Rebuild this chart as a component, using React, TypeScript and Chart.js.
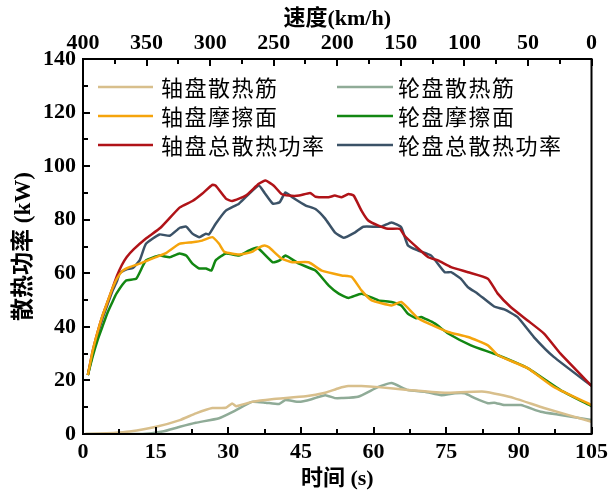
import { useEffect, useRef } from "react";
import { Chart, registerables } from "chart.js";

Chart.register(...registerables);

// ---------- data ----------
const tanT = [0.5, 6.3, 9.6, 15.1, 20, 23.3, 26.7, 29.5, 30.8, 31.6, 34.9, 39, 46, 50, 52.8, 54.8, 57.5, 61, 67.1, 74.7, 82.9, 89, 95.2, 105];
const tanV = [0, 0.4, 0.9, 2.7, 5.2, 7.7, 9.7, 9.8, 11.4, 10.4, 12, 13, 14.1, 15.4, 17.1, 17.9, 17.9, 17.5, 16.4, 15.4, 15.8, 13.4, 9.7, 4.6];

const sageT = [0.5, 12.3, 16.4, 20, 23.3, 28.1, 31.6, 34.9, 37.7, 40.5, 41.8, 44.6, 47.2, 50, 52, 53.4, 56.8, 61, 63.7, 67.1, 70.6, 74, 76.8, 78.8, 80.9, 83.6, 84.9, 87, 90.4, 94.5, 98.6, 105];
const sageV = [0, 0, 0.9, 2.7, 4.2, 5.9, 8.9, 12, 11.7, 11.2, 12.7, 12, 13, 14.5, 13.4, 13.4, 13.9, 17.6, 19, 16.4, 15.8, 14.5, 15.2, 15.2, 13.4, 11.5, 11.7, 10.8, 10.8, 8.3, 7.1, 5.2];

const orangeT = [1, 2, 3, 4, 5, 6, 7, 8.2, 9.6, 11.7, 14.3, 17, 19.9, 22.6, 24.6, 26.7, 28.1, 29.2, 32.2, 34.9, 36.3, 37.5, 38.4, 41, 43.2, 46.6, 49.3, 53.4, 55.5, 57.5, 59.6, 63.7, 65.7, 69.2, 71.3, 75.4, 79.5, 83.6, 85.7, 91.8, 97.2, 105];
const orangeV = [22, 31, 38, 44, 49, 54, 58, 61, 62.3, 63.6, 65.5, 67.4, 71, 71.6, 72.2, 73.5, 71, 68, 67, 68, 69.6, 70.4, 69.7, 65.5, 64.1, 64.1, 61, 59.2, 58.6, 53.6, 49.9, 48, 49.3, 43.2, 41.3, 38.1, 36.2, 33.1, 29.4, 24.6, 17.6, 10.8];

const greenT = [1, 2, 3, 4, 5, 6, 6.9, 8.9, 11, 13, 15.8, 17.9, 19.9, 21.3, 22.6, 24, 25.4, 26.5, 27.4, 29.5, 32.2, 34.3, 36, 39.2, 40.6, 41.8, 44.6, 48, 50.7, 52.8, 54.8, 57.5, 61, 63.7, 65.7, 67.1, 68.8, 69.8, 72.6, 75.4, 80.1, 85.7, 91.8, 98.6, 105];
const greenV = [22, 29, 35, 40, 45, 49, 52.4, 57.3, 58, 64.8, 66.6, 66, 67.4, 66.6, 63.6, 61.8, 61.8, 61, 64.8, 67.4, 66.6, 68.5, 69.6, 64.1, 64.8, 66.6, 63.6, 61, 55.5, 52.4, 50.8, 52.4, 49.9, 49.3, 48, 44.9, 43.2, 43.7, 41.3, 37.5, 33.1, 29.4, 24.6, 16.4, 10.4];

const redT = [1, 2, 3, 4, 5, 6, 7, 8, 9, 10.5, 13, 16, 20, 22.6, 24.6, 26.7, 27.4, 29.5, 30.8, 33.6, 36.3, 37.7, 39.4, 41, 42.5, 44.6, 46.9, 48, 50.7, 52, 53.4, 54.8, 55.9, 57.5, 58.9, 61, 63, 65.4, 66.4, 68.5, 71.3, 73.3, 76, 79.5, 83.6, 85.6, 88.3, 91.8, 95.2, 98.6, 105];
const redV = [22, 31, 38, 44, 49, 54, 59, 63, 66, 69, 73, 77, 84.6, 87, 89.7, 93, 92.7, 87.9, 87, 89, 93.4, 94.6, 92.7, 89.6, 89, 89, 90, 88.6, 88.4, 89, 88.4, 89.6, 89, 83.4, 79.7, 77.8, 76.6, 76.6, 74, 70.4, 66, 64.8, 62.3, 60.4, 58, 52.5, 47.4, 42.4, 37.5, 30, 18];

const blueT = [1, 2, 3, 4, 5, 6, 7, 7.6, 9, 10.3, 11.7, 13, 15.8, 17.9, 20, 21.3, 22.6, 24, 25.4, 26, 27.4, 29.5, 32.2, 34.3, 36.3, 37.5, 39.2, 40.6, 41.8, 43.2, 46, 48, 50, 52, 53.8, 56.2, 57.9, 61.6, 63.7, 65.7, 67.1, 69.2, 71.9, 74.7, 76, 78, 79.5, 81.5, 84.9, 87, 89.7, 93.1, 97.2, 105];
const blueV = [22, 30, 37, 43, 48, 53, 57, 60, 61.5, 62, 64.8, 71, 74.5, 74, 77, 77.4, 74.8, 73.5, 74.8, 74.5, 78.5, 83.4, 86, 89.7, 92.8, 90, 86, 86.5, 90.2, 88.4, 85.3, 84, 80.4, 75.3, 73.3, 75.3, 77.4, 77.4, 79, 77.2, 70.4, 68.5, 66.6, 60.4, 60.4, 58, 54.8, 52.4, 47.6, 46.5, 43.7, 36.2, 28.8, 18];

const seriesNames = ["轴盘散热筋", "轮盘散热筋", "轴盘摩擦面", "轮盘摩擦面", "轴盘总散热功率", "轮盘总散热功率"];
const seriesColors = ["#d8bf8c", "#8fab97", "#f5a40c", "#128712", "#b01318", "#3b5267"];

const xTitle = "时间 (s)";
const x2Title = "速度(km/h)";
const yTitle = "散热功率 (kW)";
const xRange = [0, 105];
const x2Range = [0, 400];
const yRange = [0, 140];
const xTickStep = 15;
const x2TickStep = 50;
const yTickStep = 20;

const SERIF = '"Liberation Serif", "Times New Roman", "Noto Sans CJK SC", serif';
const CJK = '"Noto Sans CJK SC", "Liberation Serif", sans-serif';

function pairs(t: number[], v: number[]) {
  return t.map((x, i) => ({ x, y: v[i] }));
}

const decorPlugin = {
  id: "decor",
  afterDraw(chart: any) {
    const { ctx, chartArea: a, scales } = chart;
    ctx.save();
    ctx.strokeStyle = "#000";
    ctx.lineWidth = 2;
    ctx.lineCap = "butt";
    ctx.strokeRect(a.left, a.top, a.right - a.left, a.bottom - a.top);
    const line = (x1: number, y1: number, x2: number, y2: number) => {
      ctx.beginPath();
      ctx.moveTo(x1, y1);
      ctx.lineTo(x2, y2);
      ctx.stroke();
    };
    // bottom axis ticks (inward)
    for (let v = xRange[0]; v <= xRange[1] + 1e-6; v += xTickStep / 2) {
      const px = Math.round(scales.x.getPixelForValue(v));
      const major = Math.abs(v / xTickStep - Math.round(v / xTickStep)) < 1e-6;
      line(px, a.bottom, px, a.bottom - (major ? 7 : 5));
    }
    // top axis ticks
    for (let v = x2Range[0]; v <= x2Range[1] + 1e-6; v += x2TickStep / 2) {
      const px = Math.round(scales.x2.getPixelForValue(v));
      const major = Math.abs(v / x2TickStep - Math.round(v / x2TickStep)) < 1e-6;
      line(px, a.top, px, a.top + (major ? 7 : 5));
    }
    // left axis ticks
    for (let v = yRange[0]; v <= yRange[1] + 1e-6; v += yTickStep / 2) {
      const py = Math.round(scales.y.getPixelForValue(v));
      const major = Math.abs(v / yTickStep - Math.round(v / yTickStep)) < 1e-6;
      line(a.left, py, a.left + (major ? 7 : 5), py);
    }
    // legend (2 columns, 3 rows) inside plot
    const rowsY = [a.top + 28, a.top + 57, a.top + 86];
    const cols = [
      { x1: a.left + 15, x2: a.left + 70, tx: a.left + 78 },
      { x1: a.left + 254, x2: a.left + 310, tx: a.left + 315 },
    ];
    ctx.font = `normal 22px ${CJK}`;
    ctx.textBaseline = "middle";
    ctx.textAlign = "left";
    ctx.fillStyle = "#000";
    try { (ctx as any).letterSpacing = "1.5px"; } catch (e) {}
    ctx.lineWidth = 2.5;
    seriesNames.forEach((name, i) => {
      const c = cols[i % 2];
      const y = rowsY[Math.floor(i / 2)];
      ctx.strokeStyle = seriesColors[i];
      line(c.x1, y, c.x2, y);
      ctx.fillText(name, c.tx, y + 1);
    });
    try { (ctx as any).letterSpacing = "0px"; } catch (e) {}
    ctx.restore();
  },
};

export default function App() {
  const ref = useRef<HTMLCanvasElement | null>(null);
  useEffect(() => {
    if (!ref.current) return;
    const ts = [tanT, sageT, orangeT, greenT, redT, blueT];
    const vs = [tanV, sageV, orangeV, greenV, redV, blueV];
    const datasets = seriesNames.map((name, i) => ({
      label: name,
      data: pairs(ts[i], vs[i]),
      borderColor: seriesColors[i],
      backgroundColor: seriesColors[i],
      borderWidth: 2.5,
      pointRadius: 0,
      tension: 0.15,
      fill: false,
      xAxisID: "x",
      yAxisID: "y",
    }));
    const tickFont = { family: SERIF, size: 22, weight: "bold" as const };
    const titleFont = { family: SERIF, size: 22, weight: "bold" as const };
    const chart = new Chart(ref.current, {
      type: "line",
      data: { datasets },
      plugins: [decorPlugin],
      options: {
        responsive: false,
        animation: false,
        layout: { padding: { left: 0, right: 19, top: 0, bottom: 0 } },
        plugins: { legend: { display: false }, tooltip: { enabled: false } },
        scales: {
          x: {
            type: "linear",
            position: "bottom",
            min: xRange[0],
            max: xRange[1],
            grid: { display: false, drawTicks: false },
            border: { display: false },
            ticks: { stepSize: xTickStep, font: tickFont, color: "#000", padding: 5, maxRotation: 0, autoSkip: false },
            title: { display: true, text: xTitle, font: titleFont, color: "#000", padding: { top: 0, bottom: 0 } },
            afterFit: (s: any) => { s.height = 59; },
          },
          x2: {
            type: "linear",
            position: "top",
            min: x2Range[0],
            max: x2Range[1],
            reverse: true,
            grid: { display: false, drawTicks: false },
            border: { display: false },
            ticks: { stepSize: x2TickStep, font: tickFont, color: "#000", padding: 2, maxRotation: 0, autoSkip: false },
            title: { display: true, text: x2Title, font: titleFont, color: "#000", padding: { top: 6, bottom: 0 } },
            afterFit: (s: any) => { s.height = 59; },
          },
          y: {
            type: "linear",
            position: "left",
            min: yRange[0],
            max: yRange[1],
            grid: { display: false, drawTicks: false },
            border: { display: false },
            ticks: { stepSize: yTickStep, font: tickFont, color: "#000", padding: 7 },
            title: { display: true, text: yTitle, font: { family: SERIF, size: 23, weight: "bold" as const }, color: "#000", padding: { top: 10, bottom: 0 } },
            afterFit: (s: any) => { s.width = 83; },
          },
        },
      } as any,
    });
    return () => chart.destroy();
  }, []);
  return (
    <div style={{ position: "fixed", left: 0, top: 0, width: 613, height: 493, background: "#fff" }}>
      <canvas ref={ref} width={613} height={493} style={{ display: "block" }} />
    </div>
  );
}
